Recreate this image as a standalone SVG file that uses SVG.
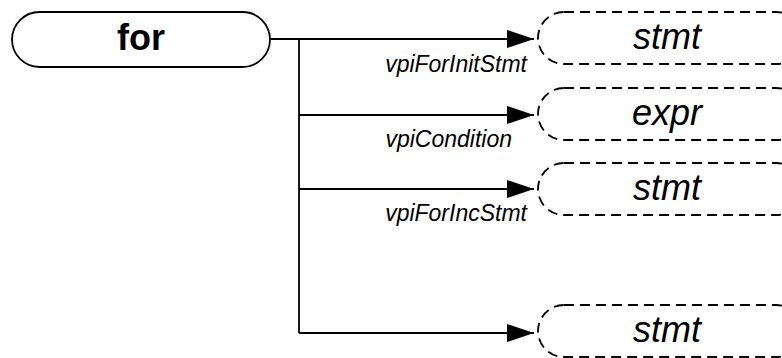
<svg xmlns="http://www.w3.org/2000/svg" width="782" height="358" viewBox="0 0 782 358">
<style>
.solid{fill:#fff;stroke:#000;stroke-width:1.8}
.dash{fill:#fff;stroke:#000;stroke-width:1.8;stroke-dasharray:10 6}
.title{font-family:"Liberation Sans",Arial,sans-serif;font-weight:bold;font-size:36px;text-anchor:middle}
.ntext{font-family:"Liberation Sans",Arial,sans-serif;font-style:italic;font-size:36px;text-anchor:middle}
.lbl{font-family:"Liberation Sans",Arial,sans-serif;font-style:italic;font-size:23px;text-anchor:end}
.conn{fill:none;stroke:#000;stroke-width:1.8}
</style>
<defs>
<marker id="arr" markerWidth="28" markerHeight="18" refX="27" refY="9" orient="auto" markerUnits="userSpaceOnUse">
<path d="M0,0 L27,9 L0,18 Z" fill="#000"/>
</marker>
</defs>
<g id="for">
<rect class="solid" x="12" y="12" width="258" height="55" rx="27.5"/>
<text class="title" x="141" y="50">for</text>
</g>
<g id="stmt1">
<rect class="dash" x="538" y="12" width="264" height="52" rx="26"/>
<text class="ntext" x="667" y="49">stmt</text>
</g>
<g id="expr">
<rect class="dash" x="538" y="88" width="264" height="52" rx="26"/>
<text class="ntext" x="667" y="125">expr</text>
</g>
<g id="stmt2">
<rect class="dash" x="538" y="163" width="264" height="52" rx="26"/>
<text class="ntext" x="667" y="200">stmt</text>
</g>
<g id="stmt3">
<rect class="dash" x="538" y="305" width="264" height="52" rx="26"/>
<text class="ntext" x="667" y="342">stmt</text>
</g>
<g id="connectors">
<path class="conn" d="M270,39 H299 V333"/>
<path class="conn" d="M299,39 H534" marker-end="url(#arr)"/>
<path class="conn" d="M299,115 H534" marker-end="url(#arr)"/>
<path class="conn" d="M299,189 H534" marker-end="url(#arr)"/>
<path class="conn" d="M299,333 H534" marker-end="url(#arr)"/>
<text class="lbl" x="527" y="72">vpiForInitStmt</text>
<text class="lbl" x="512" y="147">vpiCondition</text>
<text class="lbl" x="527" y="221">vpiForIncStmt</text>
</g>
</svg>
